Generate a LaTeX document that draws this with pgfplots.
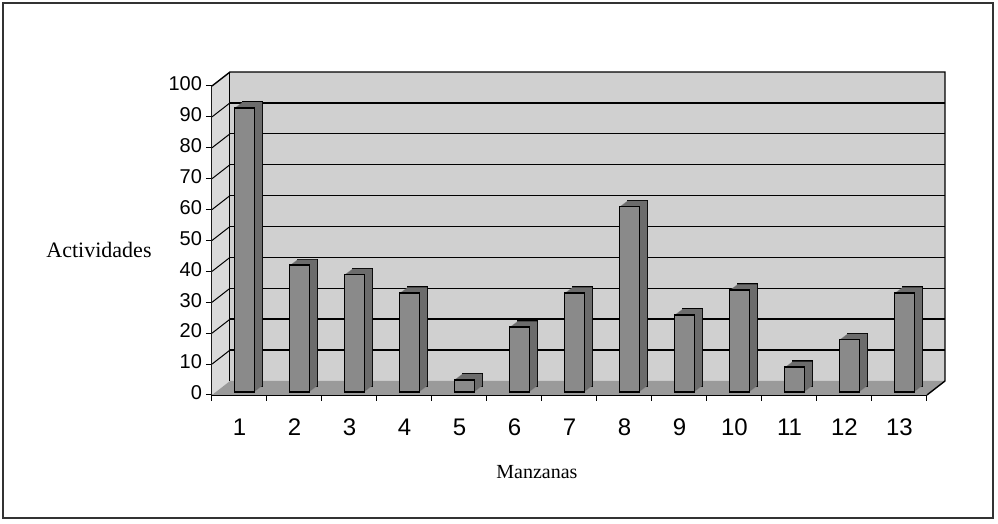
\documentclass[border=0pt]{standalone}
\usepackage{fontspec}
\setmainfont{Liberation Serif}
\setsansfont{Liberation Sans}
\usepackage{pgfplots}
\pgfplotsset{compat=1.18}
\usepackage{pgfplotstable}
\definecolor{wall}{HTML}{D0D0D0}
\definecolor{lwall}{HTML}{DADADA}
\definecolor{floorc}{HTML}{9A9A9A}
\definecolor{barfront}{HTML}{8A8A8A}
\definecolor{barside}{HTML}{6C6C6C}
\pgfplotstableread{
x y
1 92
2 41
3 38
4 32
5 4
6 21
7 32
8 60
9 25
10 33
11 8
12 17
13 32
}\datatable
\begin{document}
\begin{tikzpicture}
\path (-106pt,-64.5pt) rectangle (393pt,197.5pt);
\begin{axis}[
  scale only axis, width=357.5pt, height=154.5pt,
  xmin=0.5, xmax=13.5, ymin=0, ymax=100,
  clip=false,
  axis x line*=bottom, axis y line*=left,
  axis line style={black, line width=0.6pt},
  xtick={0.5,1.5,...,13.5},
  xticklabels={},
  extra x ticks={1,2,3,4,5,6,7,8,9,10,11,12,13},
  extra x tick labels={1,2,3,4,5,6,7,8,9,10,11,12,13},
  extra x tick style={tick style={draw=none}},
  ytick={0,10,...,100},
  tick align=outside, major tick length=3pt,
  x tick style={black, line width=0.5pt},
  y tick style={black, line width=0.5pt},
  typeset ticklabels with strut,
  /pgf/number format/assume math mode=true,
  xticklabel style={font=\sffamily\fontsize{12}{14}\selectfont, yshift=-4pt},
  yticklabel style={font=\sffamily\fontsize{10}{12}\selectfont, xshift=1.5pt},
  xlabel={Manzanas},
  xlabel style={font=\fontsize{10}{12}\selectfont, at={(axis description cs:0.4545,-0.249)}, anchor=center},
  ylabel={Actividades},
  ylabel style={font=\fontsize{11}{13}\selectfont, rotate=-90, at={(axis description cs:-0.158,0.469)}, anchor=center},
]
% back wall
\fill[wall, shift={(9pt,7pt)}] (axis cs:0.5,0) rectangle (axis cs:13.5,100);
% left wall
\fill[lwall] (axis cs:0.5,0) -- (axis cs:0.5,100) -- ([shift={(9pt,7pt)}]axis cs:0.5,100) -- ([shift={(9pt,7pt)}]axis cs:0.5,0) -- cycle;
% floor
\fill[floorc] (axis cs:0.5,0) -- (axis cs:13.5,0) -- ([shift={(9pt,7pt)}]axis cs:13.5,0) -- ([shift={(9pt,7pt)}]axis cs:0.5,0) -- cycle;
% grid lines
\pgfplotsinvokeforeach{10,20,30,40,50,60,70,80,90}{
  \draw[black, line width=0.7pt, shift={(9pt,7pt)}] (axis cs:0.5,#1) -- (axis cs:13.5,#1);
  \draw[black, line width=0.5pt] (axis cs:0.5,#1) -- ([shift={(9pt,7pt)}]axis cs:0.5,#1);
}
\draw[black, line width=0.7pt] (axis cs:0.5,100) -- ([shift={(9pt,7pt)}]axis cs:0.5,100) -- ([shift={(9pt,7pt)}]axis cs:13.5,100) -- ([shift={(9pt,7pt)}]axis cs:13.5,0) -- (axis cs:13.5,0);
\draw[black, line width=0.5pt] ([shift={(9pt,7pt)}]axis cs:0.5,0) -- ([shift={(9pt,7pt)}]axis cs:0.5,100);
% 3D bars: back copy with outline
\addplot[ybar, bar width=10pt, fill=barside, draw=black, line width=0.8pt, xshift=6.5pt, yshift=4.5pt] table[x=x,y=y] {\datatable};
\pgfplotsinvokeforeach{3,3.5,4,4.5,5,5.5,6,6.3}{
  \addplot[ybar, bar width=10pt, fill=barside, draw=none, xshift=#1pt, yshift=#1pt*0.75-0.4pt] table[x=x,y=y] {\datatable};
}
% front face
\addplot[ybar, bar width=10pt, fill=barfront, draw=black, line width=0.9pt, xshift=2.5pt, yshift=1.5pt] table[x=x,y=y] {\datatable};
\end{axis}
\draw[black!80, line width=0.6pt] (-104.5pt,-61.5pt) rectangle (390.5pt,196pt);
\end{tikzpicture}
\end{document}
